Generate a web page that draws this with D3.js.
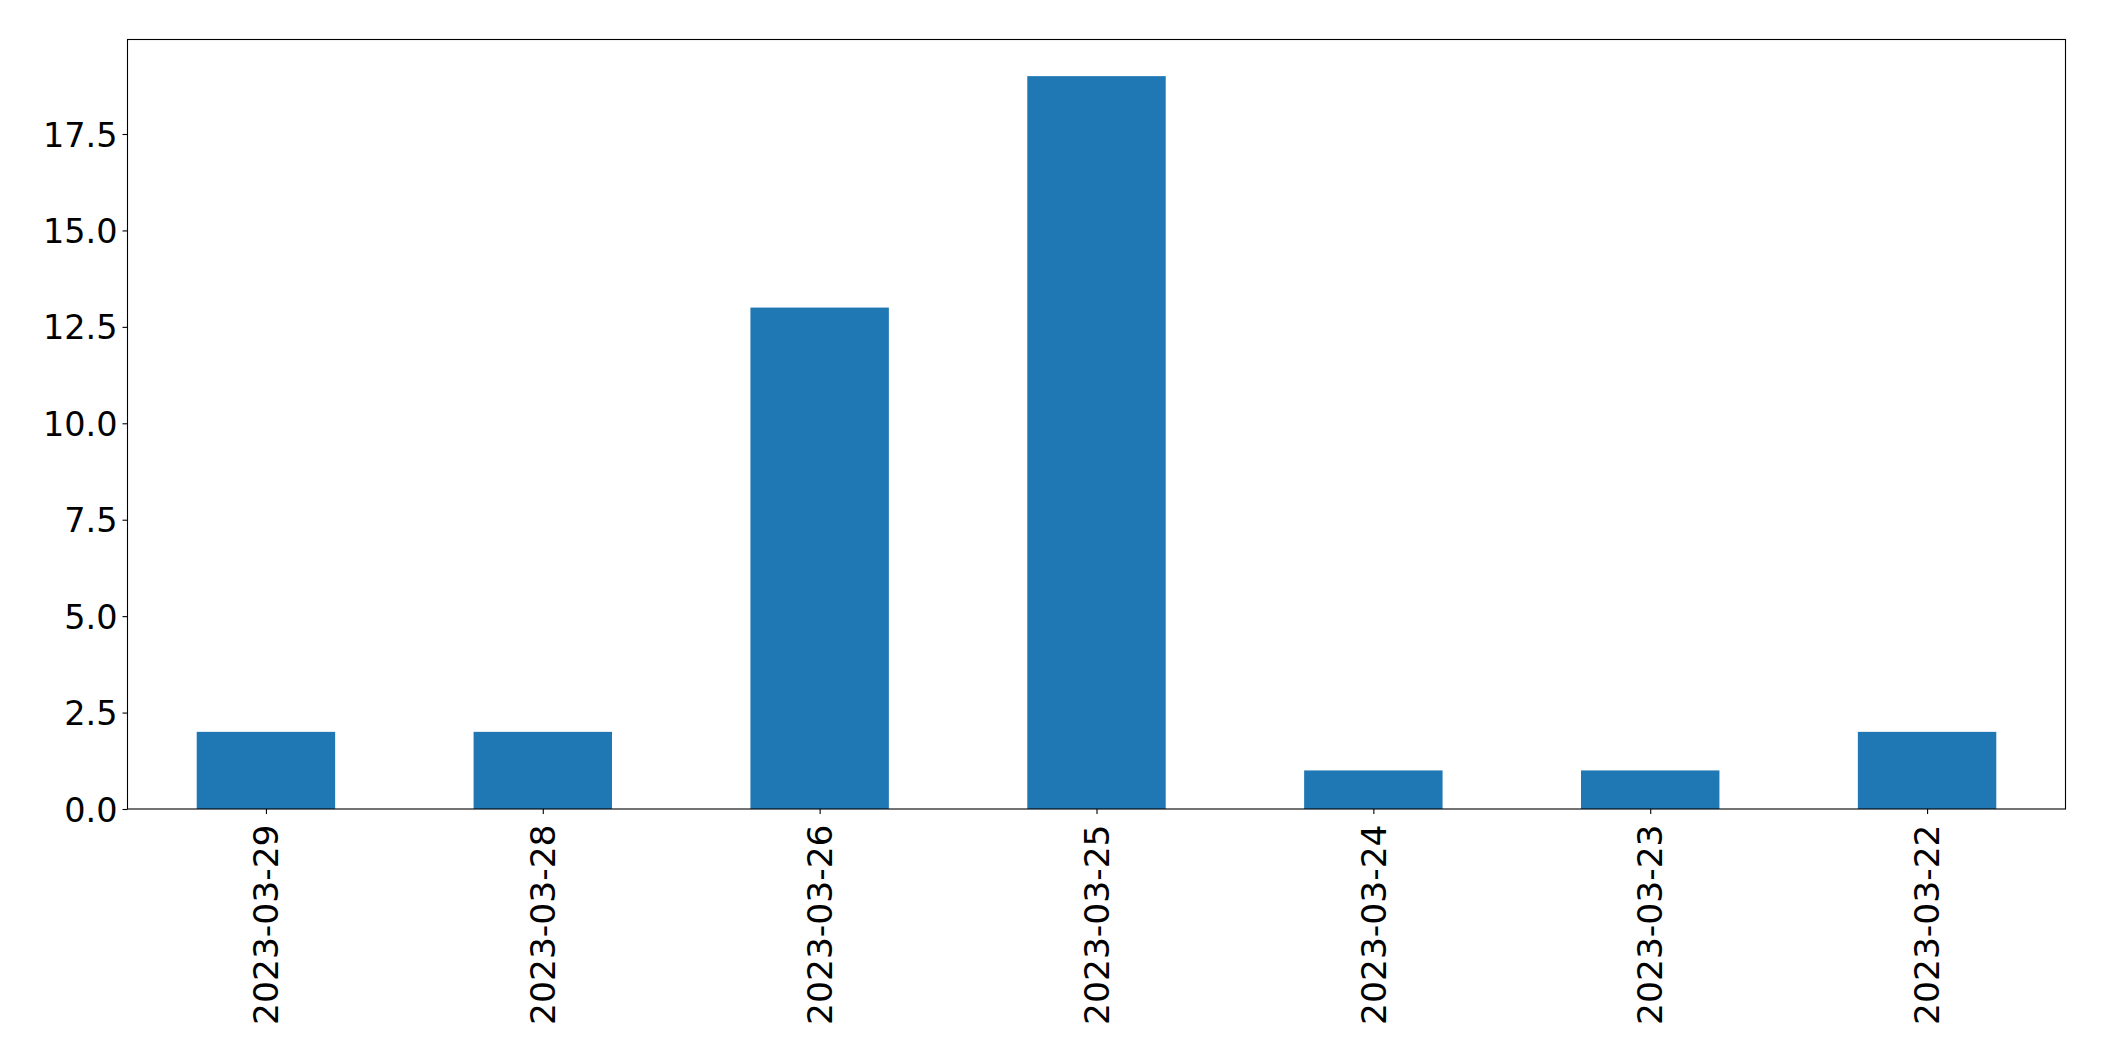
<!DOCTYPE html>
<html>
<head>
<meta charset="utf-8">
<script src="https://cdn.jsdelivr.net/npm/d3@7"></script>
<style>
    body { margin: 0; background: #fff; }
    text { font-family: "DejaVu Sans", sans-serif; fill: #000; }
</style>
</head>
<body>
<svg id="chart" width="2104" height="1061"></svg>
<script>
// data
const dates = ["2023-03-29", "2023-03-28", "2023-03-26", "2023-03-25", "2023-03-24", "2023-03-23", "2023-03-22"];
const counts = [2, 2, 13, 19, 1, 1, 2];
const yTicks = [0, 2.5, 5, 7.5, 10, 12.5, 15, 17.5];

let margin = {top: 39.5, right: 38.5, bottom: 252, left: 127.5};
let width = 2104 - margin.left - margin.right;
let height = 1061 - margin.top - margin.bottom;

// the reference glyphs are a bit taller than wide
let stretch = 1.03;

let svg = d3.select("#chart");
let g = svg.append("g")
    .attr("transform", "translate(" + margin.left + "," + margin.top + ")");

// pandas style bar: xlim -0.5..n-0.5, bar width 0.5
let x = d3.scaleLinear()
    .domain([-0.5, dates.length - 0.5])
    .range([0, width]);

let y = d3.scaleLinear()
    .domain([0, d3.max(counts) * 1.05])
    .range([height, 0]);

let barW = x(0.25) - x(-0.25);

g.selectAll("rect.bar")
    .data(counts)
    .enter().append("rect")
    .attr("class", "bar")
    .attr("x", function(d, i) { return x(i) - barW / 2; })
    .attr("y", function(d) { return y(d); })
    .attr("width", barW)
    .attr("height", function(d) { return height - y(d); })
    .attr("fill", "#1f77b4");

// y axis
let yAxis = g.append("g")
    .call(d3.axisLeft(y).tickValues(yTicks).tickFormat(d3.format(".1f")).tickSize(5).tickPadding(5));
yAxis.select(".domain").remove();
yAxis.selectAll("text")
    .style("font-size", "33.5px")
    .attr("dy", "0.35em")
    .attr("transform", "scale(1," + stretch + ")");
yAxis.selectAll("line").attr("stroke", "#000").attr("stroke-width", 1.1);

// x axis
let xAxis = g.append("g")
    .attr("transform", "translate(0," + height + ")")
    .call(d3.axisBottom(x).tickValues(d3.range(dates.length)).tickFormat(function(i) { return dates[i]; }).tickSize(5).tickPadding(5));
xAxis.select(".domain").remove();
xAxis.selectAll("line").attr("stroke", "#000").attr("stroke-width", 1.1);
xAxis.selectAll("text")
    .style("font-size", "33.5px")
    .style("text-anchor", "end")
    .attr("transform", "scale(1," + stretch + ") rotate(-90)")
    .attr("x", -15)
    .attr("y", 0)
    .attr("dy", "0.35em");

// frame
g.append("rect")
    .attr("x", 0)
    .attr("y", 0)
    .attr("width", width)
    .attr("height", height)
    .attr("fill", "none")
    .attr("stroke", "#000")
    .attr("stroke-width", 1.1);
</script>
</body>
</html>
